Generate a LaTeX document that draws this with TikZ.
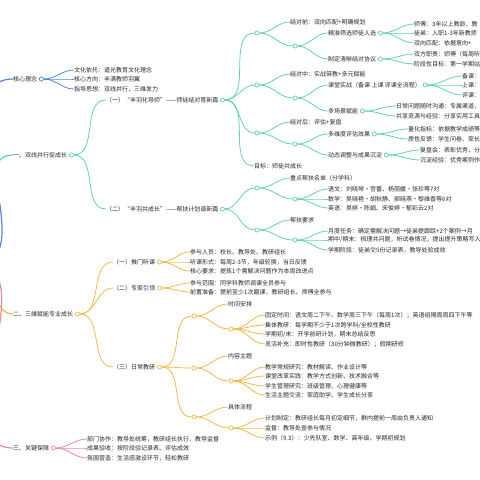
\documentclass[tikz,border=0pt]{standalone}
\usepackage{fontspec}
\setmainfont{Noto Sans CJK SC}
\definecolor{cb}{HTML}{5283DC}
\definecolor{cgr}{HTML}{62D3A6}
\definecolor{co}{HTML}{F2BA48}
\definecolor{cp}{HTML}{E88BA0}
\definecolor{txt}{HTML}{262626}
\tikzset{
  lbl/.style={anchor=west, inner sep=0pt, text=txt, font=\fontsize{6}{7}\selectfont},
  dot/.style={circle, draw=#1, fill=white, line width=0.6pt, minimum size=4pt, inner sep=0pt},
  lk/.style={draw=#1, line width=0.8pt},
  lkm/.style={draw=#1, line width=1.2pt},
}
\newcommand{\cn}[3]{\draw[lk=#1] (#2) to[out=0,in=180] (#3.west);}
\newcommand{\cm}[3]{\draw[lkm=#1] (#2) to[out=0,in=180] (#3.west);}
\begin{document}
\begin{tikzpicture}[x=1pt,y=-1pt]
\useasboundingbox (0,0) rectangle (480,480);
\clip (0,0) rectangle (480,480);
\coordinate (root) at (-25,265);
% ---------- blue ----------
\node[lbl] (k) at (13,79) {核心理念};
\node[dot=cb] (kc) at ([xshift=4pt]k.east) {};
\node[lbl] (k1) at (74,70) {文化依托：道光教育文化理念};
\node[lbl] (k2) at (74,79) {核心方向：丰满教师羽翼};
\node[lbl] (k3) at (74,89) {指导思想：双线并行，三维发力};
\cm{cb}{root}{k}
\cn{cb}{kc.east}{k1}\cn{cb}{kc.east}{k2}\cn{cb}{kc.east}{k3}
% ---------- green ----------
\node[lbl] (g0) at (13,155) {一、双线并行促成长};
\node[dot=cgr] (g0c) at ([xshift=4pt]g0.east) {};
\cm{cgr}{root}{g0}
\node[lbl] (g1) at (106,100) {（一）“丰羽化导师”——师徒结对育新篇};
\node[dot=cgr] (g1c) at ([xshift=4pt]g1.east) {};
\node[lbl] (g2) at (106,209) {（二）“丰羽共成长”——帮扶计划谱新篇};
\node[dot=cgr] (g2c) at ([xshift=4pt]g2.east) {};
\cn{cgr}{g0c.east}{g1}\cn{cgr}{g0c.east}{g2}
% g1 subtree
\node[dot=cgr] (a1) at (257,33) {};
\node[lbl] (a1t) at (290,22) {结对前：双向匹配+明确规划};
\node[dot=cgr] (a1c) at (295,46) {};
\node[lbl] (a11) at (328,33) {精准筛选师徒人选};
\node[dot=cgr] (a11c) at ([xshift=4pt]a11.east) {};
\node[lbl] (a111) at (414,24) {师傅：3年以上教龄、教};
\node[lbl] (a112) at (414,33) {徒弟：入职1-3年新教师};
\node[lbl] (a113) at (414,43) {双向匹配：依据意向+};
\node[lbl] (a12) at (328,59) {制定清晰结对协议};
\node[dot=cgr] (a12c) at ([xshift=4pt]a12.east) {};
\node[lbl] (a121) at (414,54) {双方职责：师傅（每周听};
\node[lbl] (a122) at (414,64) {阶段性目标：第一学期站};
\cn{cgr}{g1c.east}{a1}
\cn{cgr}{a1.east}{a1t}\cn{cgr}{a1.east}{a1c}
\cn{cgr}{a1c.east}{a11}\cn{cgr}{a1c.east}{a12}
\cn{cgr}{a11c.east}{a111}\cn{cgr}{a11c.east}{a112}\cn{cgr}{a11c.east}{a113}
\cn{cgr}{a12c.east}{a121}\cn{cgr}{a12c.east}{a122}
\node[dot=cgr] (a2) at (257,85) {};
\node[lbl] (a2t) at (290,74) {结对中：实战带教+多元赋能};
\node[dot=cgr] (a2c) at (295,98) {};
\node[lbl] (a21) at (328,85) {课堂实战（备课 上课 评课全流程）};
\node[dot=cgr] (a21c) at ([xshift=4pt]a21.east) {};
\node[lbl] (a211) at (462,76) {备课：};
\node[lbl] (a212) at (462,85) {上课：};
\node[lbl] (a213) at (462,95) {评课：};
\node[lbl] (a22) at (328,111) {多场景赋能};
\node[dot=cgr] (a22c) at ([xshift=4pt]a22.east) {};
\node[lbl] (a221) at (396,106) {日常问题随时沟通：专属渠道，};
\node[lbl] (a222) at (396,116) {共享资源与经验：分享实用工具};
\cn{cgr}{g1c.east}{a2}
\cn{cgr}{a2.east}{a2t}\cn{cgr}{a2.east}{a2c}
\cn{cgr}{a2c.east}{a21}\cn{cgr}{a2c.east}{a22}
\cn{cgr}{a21c.east}{a211}\cn{cgr}{a21c.east}{a212}\cn{cgr}{a21c.east}{a213}
\cn{cgr}{a22c.east}{a221}\cn{cgr}{a22c.east}{a222}
\node[dot=cgr] (a3) at (257,133) {};
\node[lbl] (a3t) at (290,122) {结对后：评估+复盘};
\node[dot=cgr] (a3c) at (295,144) {};
\node[lbl] (a31) at (328,134) {多维度评估效果};
\node[dot=cgr] (a31c) at ([xshift=4pt]a31.east) {};
\node[lbl] (a311) at (408,129) {量化指标：依据教学成绩等};
\node[lbl] (a312) at (408,139) {质性反馈：学生问卷、家长};
\node[lbl] (a32) at (328,155) {动态调整与成果沉淀};
\node[dot=cgr] (a32c) at ([xshift=4pt]a32.east) {};
\node[lbl] (a321) at (420,150) {复盘会：表彰优秀，分};
\node[lbl] (a322) at (420,160) {沉淀经验：优秀案例作};
\node[lbl] (a4) at (254,166) {目标：师徒共成长};
\cn{cgr}{g1c.east}{a3}\cn{cgr}{g1c.east}{a4}
\cn{cgr}{a3.east}{a3t}\cn{cgr}{a3.east}{a3c}
\cn{cgr}{a3c.east}{a31}\cn{cgr}{a3c.east}{a32}
\cn{cgr}{a31c.east}{a311}\cn{cgr}{a31c.east}{a312}
\cn{cgr}{a32c.east}{a321}\cn{cgr}{a32c.east}{a322}
% g2 subtree
\node[dot=cgr] (b1) at (257,188) {};
\node[lbl] (b1t) at (290,178) {重点帮扶名单（分学科）};
\node[dot=cgr] (b1c) at (295,199) {};
\node[lbl] (b11) at (328,189) {语文：刘晓琴·宫蕾、杨丽媛·张珍等7对};
\node[lbl] (b12) at (328,199) {数学：吴晓艳·胡秋静、郝晓燕·黎维香等6对};
\node[lbl] (b13) at (328,208) {英语：吴婷·陈娟、宋俊婷·郁彩云2对};
\node[dot=cgr] (b2) at (257,230) {};
\node[lbl] (b2t) at (290,220) {帮扶要求};
\node[dot=cgr] (b2c) at (295,240) {};
\node[lbl] (b21) at (328,231) {月度任务：确定需解决问题→徒弟提跟踪+2个案例→月};
\node[lbl] (b22) at (328,240) {期中/期末：梳理共问题，析试卷情况，提出提升策略写入};
\node[lbl] (b23) at (328,250) {学期阶段：徒弟交5份记录表，教导处验成效};
\cn{cgr}{g2c.east}{b1}\cn{cgr}{g2c.east}{b2}
\cn{cgr}{b1.east}{b1t}\cn{cgr}{b1.east}{b1c}
\cn{cgr}{b1c.east}{b11}\cn{cgr}{b1c.east}{b12}\cn{cgr}{b1c.east}{b13}
\cn{cgr}{b2.east}{b2t}\cn{cgr}{b2.east}{b2c}
\cn{cgr}{b2c.east}{b21}\cn{cgr}{b2c.east}{b22}\cn{cgr}{b2c.east}{b23}
% ---------- orange ----------
\node[lbl] (o0) at (13,314) {二、三维赋能专业成长};
\node[dot=co] (o0c) at ([xshift=4pt]o0.east) {};
\cm{co}{root}{o0}
\node[lbl] (o1) at (113,262) {（一）推门听课};
\node[dot=co] (o1c) at ([xshift=4pt]o1.east) {};
\node[lbl] (o11) at (190,252) {参与人员：校长、教导处、教研组长};
\node[lbl] (o12) at (190,262) {听课形式：每周2-3节，年级轮换，当日反馈};
\node[lbl] (o13) at (190,271) {核心要求：提炼1个需解决问题作为本周改进点};
\node[lbl] (o2) at (113,288) {（二）专家引领};
\node[dot=co] (o2c) at ([xshift=4pt]o2.east) {};
\node[lbl] (o21) at (190,283) {参与范围：同学科教师调课全员参与};
\node[lbl] (o22) at (190,292) {前置准备：提前至少1次磨课，教研组长、师傅全参与};
\node[lbl] (o3) at (113,367) {（三）日常教研};
\node[dot=co] (o3c) at ([xshift=4pt]o3.east) {};
\cn{co}{o0c.east}{o1}\cn{co}{o0c.east}{o2}\cn{co}{o0c.east}{o3}
\cn{co}{o1c.east}{o11}\cn{co}{o1c.east}{o12}\cn{co}{o1c.east}{o13}
\cn{co}{o2c.east}{o21}\cn{co}{o2c.east}{o22}
\node[dot=co] (d1) at (194,316) {};
\node[lbl] (d1t) at (228,304) {时间安排};
\node[dot=co] (d1c) at (231,329) {};
\node[lbl] (d11) at (265,315) {固定时间：语文周二下午、数学周三下午（每周1次）；英语组隔周周四下午等};
\node[lbl] (d12) at (265,325) {集体教研：每学期不少于1次跨学科/全校性教研};
\node[lbl] (d13) at (265,334) {学期初/末：开学前研计划，期末总结反思};
\node[lbl] (d14) at (265,344) {灵活补充：即时性教研（30分钟微教研）；假期研修};
\node[dot=co] (d2) at (194,368) {};
\node[lbl] (d2t) at (228,356) {内容主题};
\node[dot=co] (d2c) at (231,381) {};
\node[lbl] (d21) at (265,367) {教学常规研究：教材解读、作业设计等};
\node[lbl] (d22) at (265,376) {课堂改革实践：教学方式创新、技术融合等};
\node[lbl] (d23) at (265,386) {学生管理研究：班级管理、心理健康等};
\node[lbl] (d24) at (265,395) {生活主题交流：家庭助学、学生成长分享};
\node[dot=co] (d3) at (194,417) {};
\node[lbl] (d3t) at (228,407) {具体流程};
\node[dot=co] (d3c) at (231,428) {};
\node[lbl] (d31) at (265,418) {计划制定：教研组长每月初定细节，群内提前一周由负责人通知};
\node[lbl] (d32) at (265,428) {监督：教导处查参与情况};
\node[lbl] (d33) at (265,438) {示例（9.3）：少先队室、数学、高年级、学期初规划};
\cn{co}{o3c.east}{d1}\cn{co}{o3c.east}{d2}\cn{co}{o3c.east}{d3}
\cn{co}{d1.east}{d1t}\cn{co}{d1.east}{d1c}
\cn{co}{d1c.east}{d11}\cn{co}{d1c.east}{d12}\cn{co}{d1c.east}{d13}\cn{co}{d1c.east}{d14}
\cn{co}{d2.east}{d2t}\cn{co}{d2.east}{d2c}
\cn{co}{d2c.east}{d21}\cn{co}{d2c.east}{d22}\cn{co}{d2c.east}{d23}\cn{co}{d2c.east}{d24}
\cn{co}{d3.east}{d3t}\cn{co}{d3.east}{d3c}
\cn{co}{d3c.east}{d31}\cn{co}{d3c.east}{d32}\cn{co}{d3c.east}{d33}
% ---------- pink ----------
\node[lbl] (p0) at (13,448) {三、关键保障};
\node[dot=cp] (p0c) at ([xshift=4pt]p0.east) {};
\cm{cp}{root}{p0}
\node[lbl] (p1) at (87,439) {部门协作：教导处统筹，教研组长执行，教导监督};
\node[lbl] (p2) at (87,448) {成果验收：按阶段验记录表、评估成效};
\node[lbl] (p3) at (87,458) {氛围营造：生活感激设环节，轻松教研};
\cn{cp}{p0c.east}{p1}\cn{cp}{p0c.east}{p2}\cn{cp}{p0c.east}{p3}
% redraw dots on top
\foreach \n/\c in {kc/cb,g0c/cgr,g1c/cgr,g2c/cgr,a1/cgr,a1c/cgr,a11c/cgr,a12c/cgr,a2/cgr,a2c/cgr,a21c/cgr,a22c/cgr,a3/cgr,a3c/cgr,a31c/cgr,a32c/cgr,b1/cgr,b1c/cgr,b2/cgr,b2c/cgr,o0c/co,o1c/co,o2c/co,o3c/co,d1/co,d1c/co,d2/co,d2c/co,d3/co,d3c/co,p0c/cp}
  \draw[\c, fill=white, line width=0.6pt] (\n) circle (2pt);
\end{tikzpicture}
\end{document}
